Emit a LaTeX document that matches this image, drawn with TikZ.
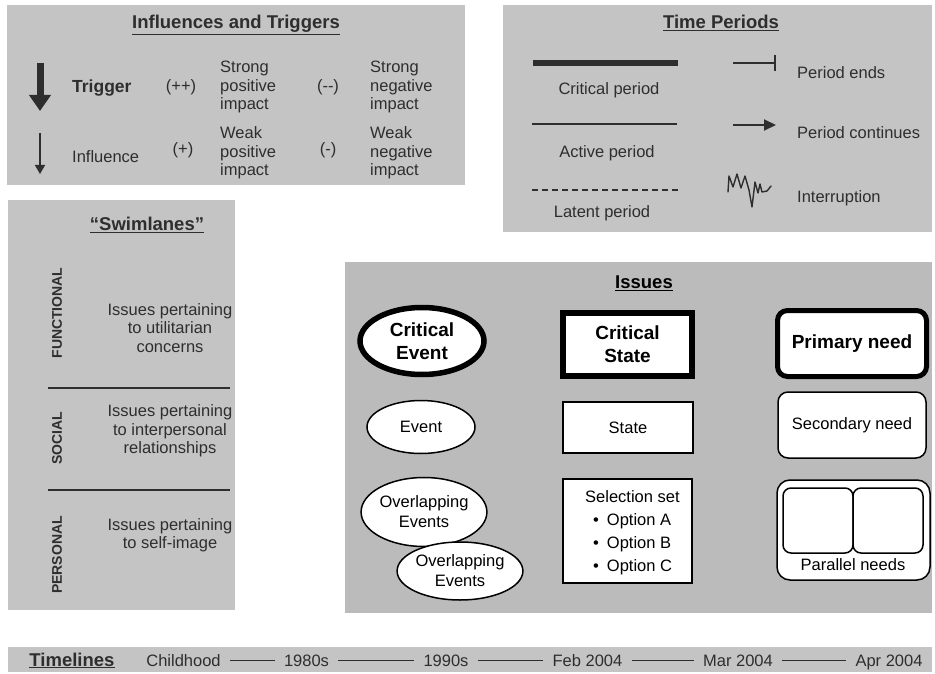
\documentclass[tikz,border=0pt]{standalone}
\usepackage{fontspec}
\setmainfont{Liberation Sans}
\usetikzlibrary{arrows.meta,shapes.geometric}
\definecolor{panelgray}{HTML}{C4C4C4}
\definecolor{issuegray}{HTML}{BBBBBB}
\definecolor{inkgray}{HTML}{2E2E2E}
\newcommand{\setfs}[2]{\fontsize{#1}{#2}\selectfont}

\begin{document}
\begin{tikzpicture}[x=1pt,y=-1pt,
  panel/.style={fill=panelgray,draw=none},
  ptext/.style={text=inkgray,font=\setfs{16.5}{18.5},inner sep=0pt,align=left},
  ctext/.style={text=inkgray,font=\setfs{16.5}{18.5},inner sep=0pt,align=center},
  ptitle/.style={text=inkgray,font=\bfseries\setfs{18.5}{20},inner sep=0pt},
  lanelabel/.style={text=inkgray,font=\bfseries\setfs{14}{14},rotate=90,inner sep=0pt},
  lanesep/.style={draw=inkgray,line width=2.5pt},
  issue/.style={draw=black,fill=white,line width=1.5pt,font=\setfs{16.5}{20},align=center,inner sep=0pt},
  critical/.style={line width=5.5pt,font=\bfseries\setfs{19}{23}},
  oval/.style={ellipse},
  roundbox/.style={rectangle,rounded corners=10pt},
  tltext/.style={text=inkgray,font=\setfs{16.5}{18},inner sep=0pt,anchor=base},
  tlline/.style={draw=inkgray,line width=1.2pt,shorten <=9pt,shorten >=9pt},
]
\useasboundingbox (0,0) rectangle (935,674);
\fill[white] (0,0) rectangle (935,674);

% ---------------- Influences and Triggers ----------------
\path[panel] (7,5) rectangle (465,185);
\node[ptitle] (it-title) at (236,25) {\underline{Influences and Triggers}};
\coordinate (trig-top) at (40,63);
\coordinate (trig-tip) at (40,111);
\draw[inkgray,line width=7pt,-{Triangle[width=21pt,length=16pt]}] (trig-top) -- (trig-tip);
\node[ptext,anchor=west,font=\bfseries\setfs{17.5}{19}] (trigger) at (72,88) {Trigger};
\node[ctext] (pp) at (181,87) {(++)};
\node[ptext,anchor=west] (strong-pos) at (220,87) {Strong\\positive\\impact};
\node[ctext] (mm) at (328,87) {(-{}-)};
\node[ptext,anchor=west] (strong-neg) at (370,87) {Strong\\negative\\impact};
\coordinate (infl-top) at (40,133);
\coordinate (infl-tip) at (40,174);
\draw[inkgray,line width=1.6pt,-{Triangle[width=10pt,length=9pt]}] (infl-top) -- (infl-tip);
\node[ptext,anchor=west] (influence) at (72,157) {Influence};
\node[ctext] (p) at (183,150) {(+)};
\node[ptext,anchor=west] (weak-pos) at (220,153) {Weak\\positive\\impact};
\node[ctext] (m) at (328,150) {(-)};
\node[ptext,anchor=west] (weak-neg) at (370,153) {Weak\\negative\\impact};

% ---------------- Time Periods ----------------
\path[panel] (503,5) rectangle (932,232);
\node[ptitle] (tp-title) at (721,23) {\underline{Time Periods}};
\coordinate (crit-a) at (533,63);
\coordinate (crit-b) at (678,63);
\draw[inkgray,line width=6pt] (crit-a) -- (crit-b);
\node[ctext] (crit-lbl) at (609,90) {Critical period};
\coordinate (act-a) at (532,124);
\coordinate (act-b) at (677,124);
\draw[inkgray,line width=1.6pt] (act-a) -- (act-b);
\node[ctext] (act-lbl) at (607,153) {Active period};
\coordinate (lat-a) at (532,190);
\coordinate (lat-b) at (678,190);
\draw[inkgray,line width=1.3pt,dash pattern=on 6pt off 4pt] (lat-a) -- (lat-b);
\node[ctext] (lat-lbl) at (602,213) {Latent period};
\coordinate (end-a) at (733,63);
\coordinate (end-b) at (776,63);
\draw[inkgray,line width=1.6pt,-{Bar[width=16pt,line width=1.6pt]}] (end-a) -- (end-b);
\node[ptext,anchor=west] (end-lbl) at (797,73) {Period ends};
\coordinate (cont-a) at (733,125);
\coordinate (cont-b) at (776,125);
\draw[inkgray,line width=2pt,-{Triangle[width=11pt,length=12pt]}] (cont-a) -- (cont-b);
\node[ptext,anchor=west] (cont-lbl) at (797,133) {Period continues};
% interruption squiggle
\draw[inkgray,line width=1.4pt,line join=round,line cap=round]
  (728,192) -- (729,176) -- (733,187) -- (737,174) -- (741,188) -- (745,176)
  -- (749,190) -- (752,207) -- (755,182) -- (758,193) -- (760,184) -- (762,192)
  -- (767,191) -- (771,186);
\node[ptext,anchor=west] (int-lbl) at (797,198) {Interruption};

% ---------------- Swimlanes ----------------
\path[panel] (8,200) rectangle (235,610);
\node[ptitle] (sw-title) at (147,225) {\underline{“Swimlanes”}};
\node[lanelabel] (functional) at (57,313) {FUNCTIONAL};
\node[lanelabel] (social) at (57,438) {SOCIAL};
\node[lanelabel] (personal) at (57,555) {PERSONAL};
\coordinate (sep1-a) at (48,388);
\coordinate (sep1-b) at (230,388);
\coordinate (sep2-a) at (48,490);
\coordinate (sep2-b) at (230,490);
\draw[lanesep] (sep1-a) -- (sep1-b);
\draw[lanesep] (sep2-a) -- (sep2-b);
\node[ctext] (func-txt) at (170,328) {Issues pertaining\\to utilitarian\\concerns};
\node[ctext] (soc-txt) at (170,431) {Issues pertaining\\to interpersonal\\relationships};
\node[ctext] (pers-txt) at (170,535) {Issues pertaining\\to self-image};

% ---------------- Issues ----------------
\path[fill=issuegray] (345,262) rectangle (932,613);
\node[font=\bfseries\setfs{18.5}{20},inner sep=0pt] (is-title) at (644,283) {\underline{Issues}};

\node[issue,oval,critical,minimum width=124pt,minimum height=67pt] (crit-event) at (422,341) {Critical\\Event};
\node[issue,rectangle,critical,line width=6pt,minimum width=129pt,minimum height=63pt] (crit-state) at (627.5,344.5) {Critical\\State};
\node[issue,roundbox,critical,line width=5pt,minimum width=149pt,minimum height=66pt] (prim-need) at (852,343.5) {Primary need};

\node[issue,oval,minimum width=108pt,minimum height=53pt] (event) at (421,427) {Event};
\node[issue,rectangle,minimum width=130pt,minimum height=51pt] (state) at (628,427.5) {State};
\node[issue,roundbox,minimum width=148pt,minimum height=66pt] (sec-need) at (852,425) {Secondary need};

\node[issue,oval,minimum width=125pt,minimum height=69pt] (overlap1) at (424,512) {Overlapping\\Events};
\node[issue,oval,minimum width=124pt,minimum height=58pt] (overlap2) at (460,571) {Overlapping\\Events};

\node[issue,rectangle,minimum width=129pt,minimum height=104pt] (selset) at (627.5,531) {};
\node[anchor=west,inner sep=0pt,font=\setfs{16.5}{23}] (selset-txt) at (585,532)
  {\begin{tabular}{@{}l@{\hspace{8pt}}l@{}}
    \multicolumn{2}{@{}l@{}}{Selection set}\\
    \hspace{8pt}\textbullet & Option A\\
    \hspace{8pt}\textbullet & Option B\\
    \hspace{8pt}\textbullet & Option C
  \end{tabular}};

\node[issue,rectangle,rounded corners=13pt,minimum width=153pt,minimum height=100pt] (parallel) at (853.5,530) {};
\node[issue,rectangle,rounded corners=8pt,minimum width=70pt,minimum height=65pt] (par-left) at (818,520.5) {};
\node[issue,rectangle,rounded corners=8pt,minimum width=70pt,minimum height=65pt] (par-right) at (888,520.5) {};
\node[inner sep=0pt,font=\setfs{16.5}{20}] (par-lbl) at (853,565) {Parallel needs};

% ---------------- Timelines ----------------
\path[panel] (8,647) rectangle (932,672);
\node[tltext,font=\bfseries\setfs{18.5}{20}] (tl-title) at (72,666) {\underline{Timelines}};
\node[tltext] (tl-child) at (183.5,666) {Childhood};
\node[tltext] (tl-80s) at (306.5,666) {1980s};
\node[tltext] (tl-90s) at (446,666) {1990s};
\node[tltext] (tl-feb) at (587.5,666) {Feb 2004};
\node[tltext] (tl-mar) at (738,666) {Mar 2004};
\node[tltext] (tl-apr) at (889,666) {Apr 2004};
\draw[tlline] ([yshift=3pt]tl-child.mid east) -- ([yshift=3pt]tl-80s.mid west);
\draw[tlline] ([yshift=3pt]tl-80s.mid east) -- ([yshift=3pt]tl-90s.mid west);
\draw[tlline] ([yshift=3pt]tl-90s.mid east) -- ([yshift=3pt]tl-feb.mid west);
\draw[tlline] ([yshift=3pt]tl-feb.mid east) -- ([yshift=3pt]tl-mar.mid west);
\draw[tlline] ([yshift=3pt]tl-mar.mid east) -- ([yshift=3pt]tl-apr.mid west);
\end{tikzpicture}
\end{document}
